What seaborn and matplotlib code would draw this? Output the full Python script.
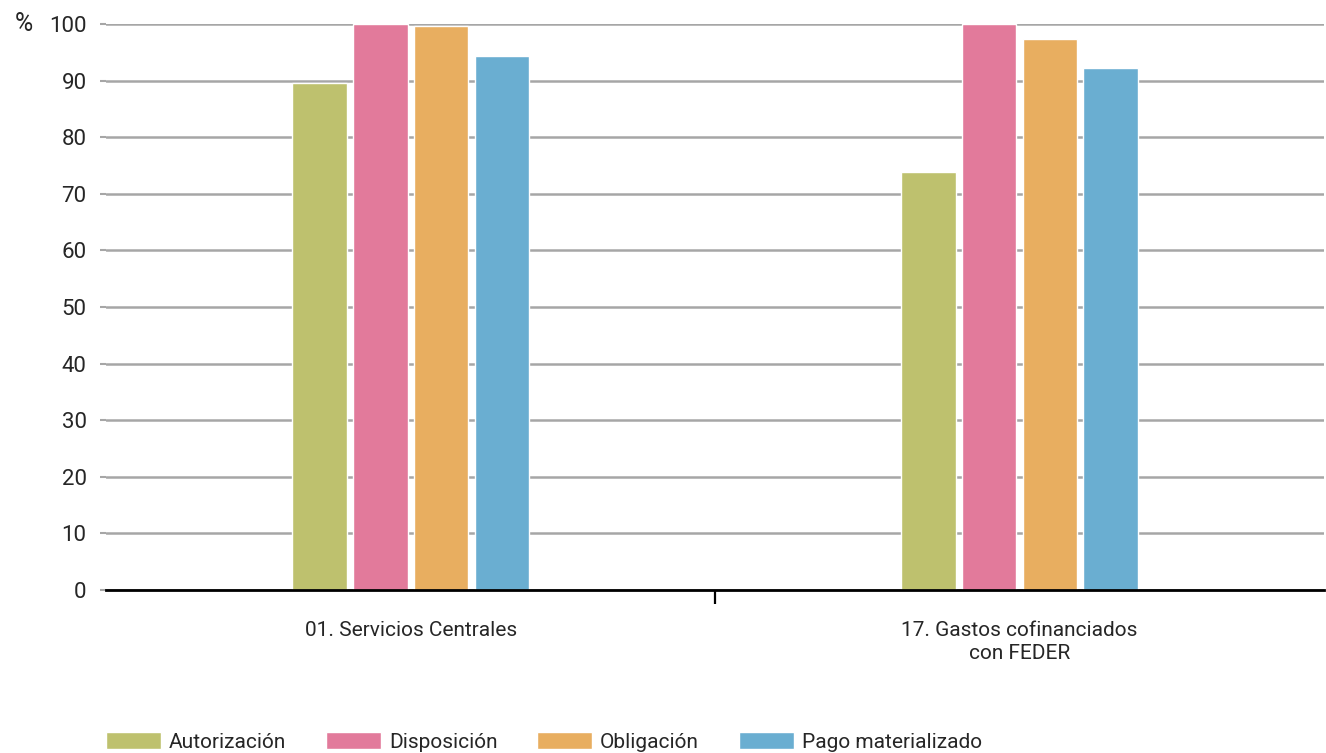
import pandas as pd
import matplotlib.pyplot as plt
import seaborn as sns
from matplotlib.ticker import FixedLocator

sns.set_theme(style="white")
plt.rcParams['font.family'] = ['Roboto', 'DejaVu Sans']

# Datos
categorias = ['01. Servicios Centrales', '17. Gastos cofinanciados\ncon FEDER']
fases = ['Autorización', 'Disposición', 'Obligación', 'Pago materializado']
autorizacion = [89.6, 73.9]
disposicion = [100.0, 100.0]
obligacion = [99.6, 97.3]
pago = [94.3, 92.2]
colores = ['#BEC16E', '#E27A9B', '#E8AE60', '#6AAED1']

df = pd.DataFrame({
    'categoria': categorias * 4,
    'fase': [f for f in fases for _ in categorias],
    'valor': autorizacion + disposicion + obligacion + pago,
})

fig = plt.figure(figsize=(13.26, 7.53), dpi=100)
ax = fig.add_axes([0.0800, 0.2165, 0.9185, 0.7515])

sns.barplot(data=df, x='categoria', y='valor', hue='fase', palette=colores,
            width=0.40, gap=0.1, saturation=1, ax=ax, zorder=3)

ax.set_xlim(-0.5, 1.5)
ax.set_ylim(0, 100)
ax.set_yticks(range(0, 101, 10))
ax.yaxis.grid(True, color='#a6a6a6', linewidth=1.8, zorder=0)
ax.tick_params(axis='y', left=True, length=4, color='#a6a6a6', width=1.5, labelsize=16, pad=10)

# Etiquetas de categoría sin marca, marca de separación en 0.5
ax.set_xticks([0, 1])
ax.set_xticklabels(categorias, fontsize=15, linespacing=1.3)
ax.tick_params(axis='x', which='major', bottom=True, length=0, pad=22)
ax.xaxis.set_minor_locator(FixedLocator([0.5]))
ax.tick_params(axis='x', which='minor', bottom=True, length=10, width=1.6, color='black')

for s in ['left', 'right', 'top']:
    ax.spines[s].set_visible(False)
ax.spines['bottom'].set_color('black')
ax.spines['bottom'].set_linewidth(2)
ax.spines['bottom'].set_zorder(4)

ax.set_xlabel('')
ax.set_ylabel('')
fig.text(0.011, 0.968, '%', fontsize=18, va='center', ha='left')

ax.legend(loc='lower left', bbox_to_anchor=(0.079, 0.0), bbox_transform=fig.transFigure,
          ncol=4, frameon=False, fontsize=15, handlelength=2.65, handleheight=0.85,
          columnspacing=1.9, handletextpad=0.38, borderaxespad=0, borderpad=0.05)

fig.savefig('out.png', dpi=100)
